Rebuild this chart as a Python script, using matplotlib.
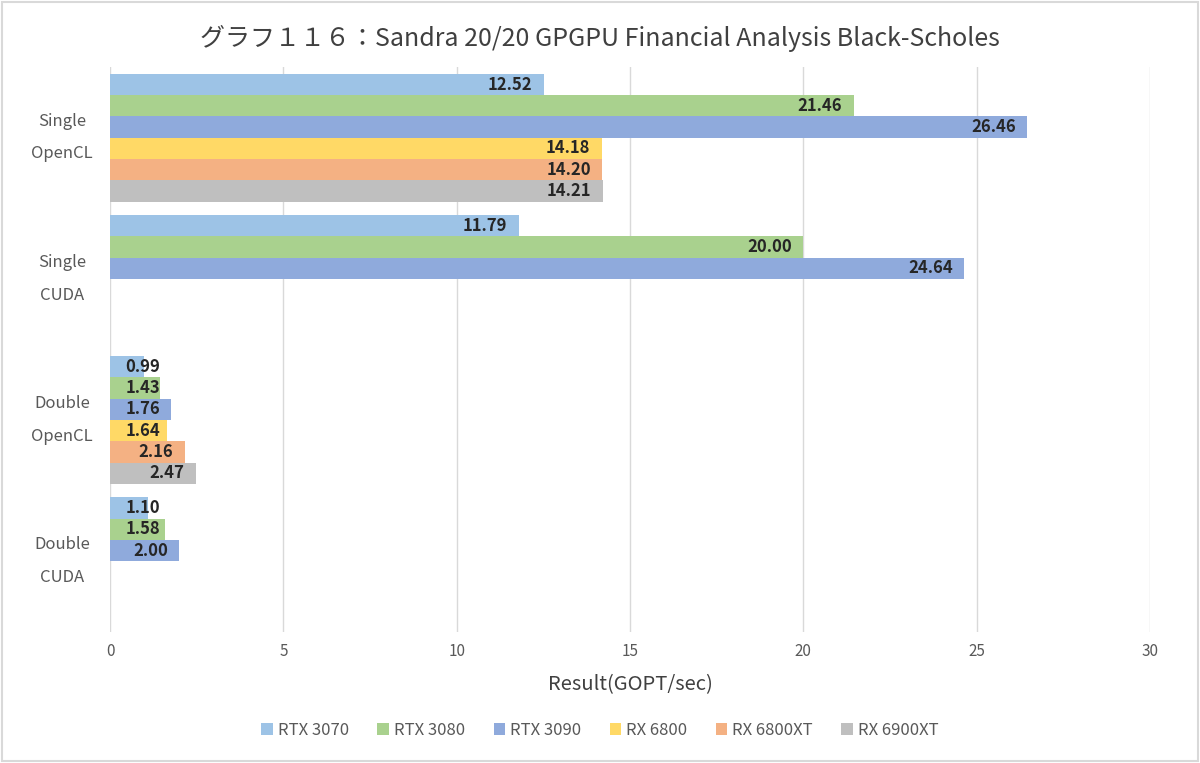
import matplotlib
matplotlib.use("Agg")
import matplotlib.pyplot as plt
import matplotlib.transforms as mtransforms
import numpy as np

plt.rcParams['font.family'] = ['Noto Sans CJK JP', 'DejaVu Sans']

# chart data
categories = ["Single\nOpenCL", "Single\nCUDA", "Double\nOpenCL", "Double\nCUDA"]
series_names = ["RTX 3070", "RTX 3080", "RTX 3090", "RX 6800", "RX 6800XT", "RX 6900XT"]
rtx3070 = [12.52, 11.79, 0.99, 1.10]
rtx3080 = [21.46, 20.00, 1.43, 1.58]
rtx3090 = [26.46, 24.64, 1.76, 2.00]
rx6800 = [14.18, None, 1.64, None]
rx6800xt = [14.20, None, 2.16, None]
rx6900xt = [14.21, None, 2.47, None]
series_values = [rtx3070, rtx3080, rtx3090, rx6800, rx6800xt, rx6900xt]
colors = ["#9DC3E6", "#A9D18E", "#8FAADC", "#FFD966", "#F4B183", "#BFBFBF"]

fig = plt.figure(figsize=(12, 7.63), dpi=100)
ax = fig.add_axes([0.0917, 0.172, 0.8666, 0.74])

n = len(series_names)
group_h = 0.904
bar_h = group_h / n
ypos = np.arange(len(categories))

for i, (name, vals, col) in enumerate(zip(series_names, series_values, colors)):
    offs = -group_h / 2 + bar_h * (i + 0.5)
    ys, xs = [], []
    for j, v in enumerate(vals):
        if v is None:
            continue
        ys.append(ypos[j] + offs)
        xs.append(v)
    ax.barh(ys, xs, height=bar_h, color=col, label=name, zorder=2)
    for y, v in zip(ys, xs):
        # inside-end label, kept inside the plot when the bar is short
        xr = max(v - 0.33, 1.45)
        ax.text(xr, y, f"{v:.2f}", ha='right', va='center', fontsize=12,
                fontweight='bold', color='#262626', zorder=3)

ax.set_ylim(len(categories) - 0.5, -0.5)
ax.set_xlim(0, 30)
ax.set_xticks(np.arange(0, 31, 5))
ax.set_yticks(ypos)
ax.set_yticklabels([])
ax.tick_params(axis='both', length=0, labelsize=11, labelcolor='#595959')
ax.tick_params(axis='x', pad=8)

# category labels, two lines with wide spacing
trans = mtransforms.blended_transform_factory(ax.transAxes, ax.transData)
for y, cat in zip(ypos, categories):
    top, bottom = cat.split("\n")
    ax.text(-0.046, y - 0.115, top, transform=trans, ha='center', va='center',
            fontsize=12, color='#595959')
    ax.text(-0.046, y + 0.115, bottom, transform=trans, ha='center', va='center',
            fontsize=12, color='#595959')

ax.grid(axis='x', color='#D9D9D9', linewidth=1, zorder=0)
for s in ax.spines.values():
    s.set_visible(False)

ax.set_xlabel("Result(GOPT/sec)", fontsize=14.5, color='#404040', labelpad=10)
fig.suptitle("グラフ１１６：Sandra 20/20 GPGPU Financial Analysis Black-Scholes",
             fontsize=18, color='#404040', y=0.967)

leg = fig.legend(loc='center', bbox_to_anchor=(0.5, 0.043), ncol=6, frameon=False,
                 fontsize=12, handlelength=0.7, handleheight=0.7, handletextpad=0.3,
                 columnspacing=1.7)
for t in leg.get_texts():
    t.set_color('#595959')

# light border around the whole chart
fig.patches.append(plt.Rectangle((0.002, 0.003), 0.996, 0.994, transform=fig.transFigure,
                                 fill=False, edgecolor='#D9D9D9', linewidth=1.5))

fig.savefig("out.png", dpi=100)
